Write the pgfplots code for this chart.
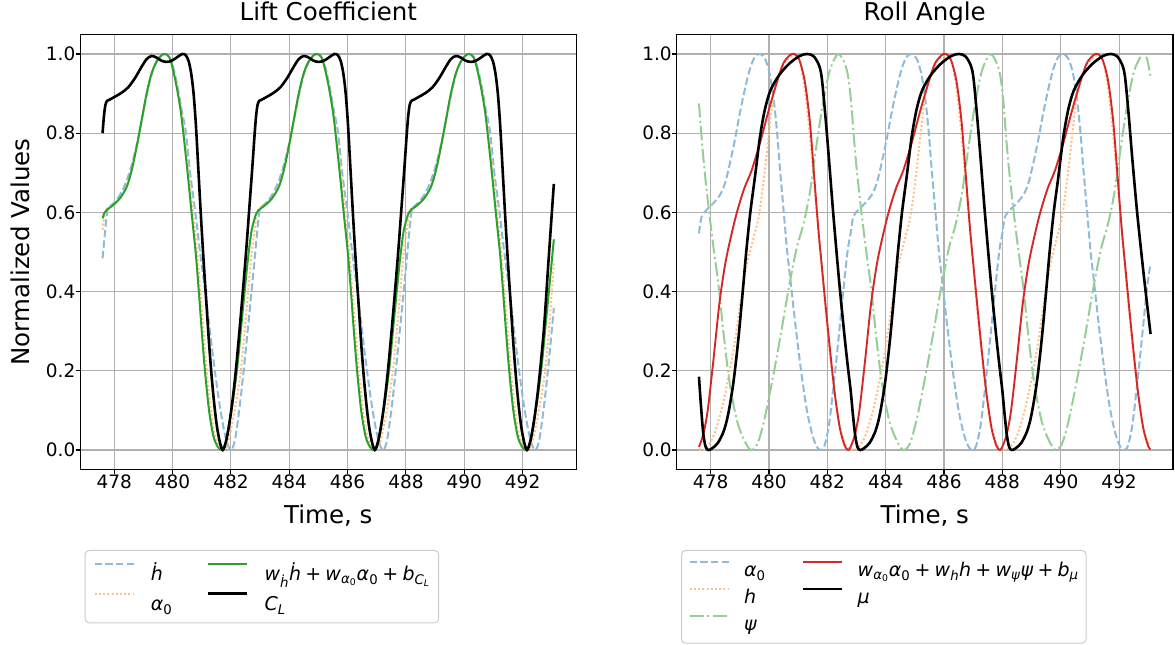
\documentclass[border=0pt]{standalone}
\usepackage{fontspec}
\setmainfont{DejaVu Sans}[ItalicFont={DejaVu Sans Oblique}]
\usepackage{pgfplots}
\pgfplotsset{compat=1.18}

\definecolor{cblue}{HTML}{8FBBD9}
\definecolor{corange}{HTML}{FFBF86}
\definecolor{cgreen}{HTML}{2CA02C}
\definecolor{cgreenl}{HTML}{95CF95}
\definecolor{cred}{HTML}{D62728}
\definecolor{cgrid}{HTML}{B0B0B0}
\definecolor{cleg}{HTML}{CCCCCC}

\newcommand{\pl}{\hspace{0.22em}+\hspace{0.22em}}

\pgfplotsset{
  panel/.style={
    scale only axis, width=496.5pt, height=435.6pt, anchor=south west,
    xmin=476.83, xmax=493.85, ymin=-0.05, ymax=1.05,
    xtick={478,480,...,492}, ytick={0,0.2,0.4,0.6,0.8,1.0},
    grid=major, major grid style={cgrid, line width=1.05pt},
    axis line style={black, line width=1.05pt},
    tick align=outside, tick pos=left, major tick length=4.6pt,
    every tick/.style={black, line width=1.05pt},
    /pgf/number format/assume math mode=true,
    ticklabel style={font=\fontsize{18.5}{22}\selectfont, inner sep=0pt},
    xticklabel style={/pgf/number format/1000 sep={}},
    yticklabel style={/pgf/number format/.cd, fixed, fixed zerofill, precision=1},
    title style={font=\fontsize{24.5}{29}\selectfont, at={(axis description cs:0.5,1.0184)}, anchor=base},
    xlabel style={font=\fontsize{24.5}{29}\selectfont, at={(axis description cs:0.5,-0.124)}, anchor=base},
    ylabel style={font=\fontsize{24.5}{29}\selectfont, at={(axis description cs:-0.1029,0.5)}, anchor=base},
    legend cell align=left, legend columns=2,
    legend image code/.code={\draw[#1, line cap=butt] (0pt,8pt) -- (39pt,8pt);},
  },
  hdot/.style={cblue, line width=2pt, dash pattern=on 7.4pt off 3.2pt},
  dots/.style={corange, line width=2pt, dash pattern=on 2pt off 2.2pt},
  dashdot/.style={cgreenl, line width=2pt, dash pattern=on 14pt off 3.4pt on 2pt off 3.4pt},
  curve/.style={forget plot, smooth, tension=0.5},
}

\begin{document}
\begin{tikzpicture}
\useasboundingbox (0pt,0pt) rectangle (1175pt,645pt);

% ---------------- Lift coefficient ----------------
\begin{axis}[panel, at={(80.1pt,175.2pt)},
  title={Lift Coefficient}, xlabel={Time, s}, ylabel={Normalized Values},
  legend style={at={(axis description cs:0.00926,-0.1841)}, anchor=north west,
    draw=cleg, line width=1pt, rounded corners=4pt, fill=white,
    font=\fontsize{19}{23}\selectfont,
    inner xsep=8.6pt, inner ysep=8pt, row sep=3.7pt,
    nodes={inner sep=0pt, text height=22pt, text depth=4.3pt},
    /tikz/every odd column/.append style={column sep=16pt},
    /tikz/every even column/.append style={column sep=34.8pt}},
]
% h-dot
\addplot[curve, hdot] coordinates {
(477.60,0.484)(477.68,0.547)(477.76,0.602)(477.85,0.615)(478.00,0.625)(478.20,0.645)(478.40,0.675)(478.60,0.720)(478.80,0.780)(478.95,0.835)(479.11,0.895)(479.28,0.948)(479.45,0.980)(479.62,0.996)(479.76,1.000)(479.90,0.990)(480.02,0.968)(480.17,0.917)(480.31,0.860)(480.46,0.800)(480.60,0.700)(480.78,0.600)(480.94,0.500)(481.12,0.400)(481.28,0.300)(481.45,0.200)(481.60,0.120)(481.75,0.055)(481.88,0.015)(482.02,0.000)(482.15,0.030)(482.30,0.110)(482.45,0.210)(482.60,0.320)(482.72,0.410)
(482.815,0.484)(482.895,0.547)(482.975,0.602)(483.065,0.615)(483.215,0.625)(483.415,0.645)(483.615,0.675)(483.815,0.720)(484.015,0.780)(484.165,0.835)(484.325,0.895)(484.495,0.948)(484.665,0.980)(484.835,0.996)(484.975,1.000)(485.115,0.990)(485.235,0.968)(485.385,0.917)(485.525,0.860)(485.675,0.800)(485.815,0.700)(485.995,0.600)(486.155,0.500)(486.335,0.400)(486.495,0.300)(486.665,0.200)(486.815,0.120)(486.965,0.055)(487.095,0.015)(487.235,0.000)(487.365,0.030)(487.515,0.110)(487.665,0.210)(487.815,0.320)(487.935,0.410)
(488.03,0.484)(488.11,0.547)(488.19,0.602)(488.28,0.615)(488.43,0.625)(488.63,0.645)(488.83,0.675)(489.03,0.720)(489.23,0.780)(489.38,0.835)(489.54,0.895)(489.71,0.948)(489.88,0.980)(490.05,0.996)(490.19,1.000)(490.33,0.990)(490.45,0.968)(490.60,0.917)(490.74,0.860)(490.89,0.800)(491.03,0.700)(491.21,0.600)(491.37,0.500)(491.55,0.400)(491.71,0.300)(491.88,0.200)(492.03,0.120)(492.18,0.055)(492.31,0.015)(492.45,0.000)(492.58,0.030)(492.73,0.110)(492.88,0.210)(493.07,0.358)
};
% alpha_0
\addplot[curve, dots] coordinates {
(477.60,0.556)(477.66,0.590)(477.72,0.608)(477.97,0.619)(478.20,0.636)(478.43,0.665)(478.60,0.707)(478.77,0.766)(478.94,0.833)(479.11,0.900)(479.28,0.951)(479.45,0.981)(479.62,0.997)(479.75,1.000)(479.88,0.993)(480.00,0.968)(480.15,0.917)(480.31,0.850)(480.45,0.766)(480.58,0.682)(480.70,0.600)(480.84,0.500)(480.95,0.400)(481.06,0.300)(481.17,0.200)(481.31,0.100)(481.46,0.035)(481.62,0.008)(481.76,0.000)(481.90,0.020)(482.05,0.070)(482.20,0.130)(482.34,0.200)(482.47,0.300)(482.59,0.400)(482.70,0.490)
(482.815,0.556)(482.875,0.590)(482.935,0.608)(483.185,0.619)(483.415,0.636)(483.645,0.665)(483.815,0.707)(483.985,0.766)(484.155,0.833)(484.325,0.900)(484.495,0.951)(484.665,0.981)(484.835,0.997)(484.965,1.000)(485.095,0.993)(485.215,0.968)(485.365,0.917)(485.525,0.850)(485.665,0.766)(485.795,0.682)(485.915,0.600)(486.055,0.500)(486.165,0.400)(486.275,0.300)(486.385,0.200)(486.525,0.100)(486.675,0.035)(486.835,0.008)(486.975,0.000)(487.115,0.020)(487.265,0.070)(487.415,0.130)(487.555,0.200)(487.685,0.300)(487.805,0.400)(487.915,0.490)
(488.03,0.556)(488.09,0.590)(488.15,0.608)(488.40,0.619)(488.63,0.636)(488.86,0.665)(489.03,0.707)(489.20,0.766)(489.37,0.833)(489.54,0.900)(489.71,0.951)(489.88,0.981)(490.05,0.997)(490.18,1.000)(490.31,0.993)(490.43,0.968)(490.58,0.917)(490.74,0.850)(490.88,0.766)(491.01,0.682)(491.13,0.600)(491.27,0.500)(491.38,0.400)(491.49,0.300)(491.60,0.200)(491.74,0.100)(491.89,0.035)(492.05,0.008)(492.19,0.000)(492.33,0.020)(492.48,0.070)(492.63,0.130)(492.77,0.200)(492.90,0.300)(493.07,0.471)
};
% linear fit
\addplot[curve, cgreen, line width=2pt] coordinates {
(477.60,0.585)(477.66,0.598)(477.74,0.606)(477.97,0.619)(478.20,0.636)(478.43,0.665)(478.60,0.707)(478.77,0.766)(478.94,0.833)(479.11,0.900)(479.28,0.951)(479.45,0.981)(479.62,0.997)(479.74,1.000)(479.88,0.993)(479.99,0.968)(480.14,0.917)(480.29,0.850)(480.42,0.766)(480.54,0.682)(480.65,0.600)(480.79,0.500)(480.90,0.400)(481.00,0.300)(481.11,0.200)(481.25,0.100)(481.40,0.035)(481.55,0.008)(481.70,0.000)(481.82,0.020)(481.95,0.070)(482.08,0.130)(482.22,0.210)(482.35,0.310)(482.47,0.400)(482.58,0.480)(482.70,0.550)
(482.815,0.585)(482.875,0.598)(482.955,0.606)(483.185,0.619)(483.415,0.636)(483.645,0.665)(483.815,0.707)(483.985,0.766)(484.155,0.833)(484.325,0.900)(484.495,0.951)(484.665,0.981)(484.835,0.997)(484.955,1.000)(485.095,0.993)(485.205,0.968)(485.355,0.917)(485.505,0.850)(485.635,0.766)(485.755,0.682)(485.865,0.600)(486.005,0.500)(486.115,0.400)(486.215,0.300)(486.325,0.200)(486.465,0.100)(486.615,0.035)(486.765,0.008)(486.915,0.000)(487.035,0.020)(487.165,0.070)(487.295,0.130)(487.435,0.210)(487.565,0.310)(487.685,0.400)(487.795,0.480)(487.915,0.550)
(488.03,0.585)(488.09,0.598)(488.17,0.606)(488.40,0.619)(488.63,0.636)(488.86,0.665)(489.03,0.707)(489.20,0.766)(489.37,0.833)(489.54,0.900)(489.71,0.951)(489.88,0.981)(490.05,0.997)(490.17,1.000)(490.31,0.993)(490.42,0.968)(490.57,0.917)(490.72,0.850)(490.85,0.766)(490.97,0.682)(491.08,0.600)(491.22,0.500)(491.33,0.400)(491.43,0.300)(491.54,0.200)(491.68,0.100)(491.83,0.035)(491.98,0.008)(492.13,0.000)(492.25,0.020)(492.38,0.070)(492.51,0.130)(492.65,0.210)(492.78,0.310)(492.90,0.400)(493.07,0.532)
};
% C_L
\addplot[curve, black, line width=2.6pt] coordinates {
(477.60,0.800)(477.65,0.845)(477.70,0.872)(477.76,0.882)(477.85,0.885)(478.02,0.892)(478.25,0.902)(478.48,0.916)(478.71,0.939)(478.94,0.968)(479.11,0.987)(479.28,0.995)(479.45,0.991)(479.62,0.983)(479.80,0.980)(479.97,0.983)(480.14,0.991)(480.33,1.000)(480.45,0.997)(480.55,0.982)(480.64,0.950)(480.72,0.900)(480.80,0.820)(480.89,0.700)(480.98,0.580)(481.07,0.470)(481.16,0.370)(481.25,0.270)(481.34,0.185)(481.43,0.115)(481.52,0.060)(481.62,0.020)(481.72,0.000)(481.82,0.018)(481.92,0.055)(482.02,0.105)(482.11,0.160)(482.20,0.225)(482.31,0.315)(482.42,0.410)(482.53,0.510)(482.63,0.610)(482.72,0.700)
(482.815,0.800)(482.865,0.845)(482.915,0.872)(482.975,0.882)(483.065,0.885)(483.235,0.892)(483.465,0.902)(483.695,0.916)(483.925,0.939)(484.155,0.968)(484.325,0.987)(484.495,0.995)(484.665,0.991)(484.835,0.983)(485.015,0.980)(485.185,0.983)(485.355,0.991)(485.545,1.000)(485.665,0.997)(485.765,0.982)(485.855,0.950)(485.935,0.900)(486.015,0.820)(486.105,0.700)(486.195,0.580)(486.285,0.470)(486.375,0.370)(486.465,0.270)(486.555,0.185)(486.645,0.115)(486.735,0.060)(486.835,0.020)(486.935,0.000)(487.035,0.018)(487.135,0.055)(487.235,0.105)(487.325,0.160)(487.415,0.225)(487.525,0.315)(487.635,0.410)(487.745,0.510)(487.845,0.610)(487.935,0.700)
(488.03,0.800)(488.08,0.845)(488.13,0.872)(488.19,0.882)(488.28,0.885)(488.45,0.892)(488.68,0.902)(488.91,0.916)(489.14,0.939)(489.37,0.968)(489.54,0.987)(489.71,0.995)(489.88,0.991)(490.05,0.983)(490.23,0.980)(490.40,0.983)(490.57,0.991)(490.76,1.000)(490.88,0.997)(490.98,0.982)(491.07,0.950)(491.15,0.900)(491.23,0.820)(491.32,0.700)(491.41,0.580)(491.50,0.470)(491.59,0.370)(491.68,0.270)(491.77,0.185)(491.86,0.115)(491.95,0.060)(492.05,0.020)(492.15,0.000)(492.25,0.018)(492.35,0.055)(492.45,0.105)(492.54,0.160)(492.63,0.225)(492.74,0.315)(492.88,0.470)(493.07,0.672)
};
\addlegendimage{hdot}
\addlegendentry{\textit{ḣ}}
\addlegendimage{cgreen, line width=2pt}
\addlegendentry{\textit{w}\textsubscript{\textit{ḣ}}\textit{ḣ}\pl\textit{w}\textsubscript{\textit{α}\textsubscript{0}}\textit{α}\textsubscript{0}\pl\textit{b}\textsubscript{\textit{C}\textsubscript{\textit{L}}}}
\addlegendimage{dots}
\addlegendentry{\textit{α}\textsubscript{0}}
\addlegendimage{black, line width=2.6pt}
\addlegendentry{\textit{C}\textsubscript{\textit{L}}}
\end{axis}

% ---------------- Roll angle ----------------
\begin{axis}[panel, at={(676.5pt,175.2pt)},
  title={Roll Angle}, xlabel={Time, s},
  legend style={at={(axis description cs:0.0091,-0.1841)}, anchor=north west,
    draw=cleg, line width=1pt, rounded corners=4pt, fill=white,
    font=\fontsize{19}{23}\selectfont,
    inner xsep=7.3pt, inner ysep=8pt, row sep=4.3pt,
    nodes={inner sep=0pt, text height=18pt, text depth=4.7pt},
    /tikz/every odd column/.append style={column sep=14.4pt},
    /tikz/every even column/.append style={column sep=36pt}},
]
% alpha_0
\addplot[curve, hdot] coordinates {
(477.60,0.547)(477.69,0.589)(477.86,0.606)(478.09,0.623)(478.32,0.644)(478.49,0.673)(478.66,0.724)(478.83,0.783)(479.00,0.850)(479.18,0.913)(479.35,0.963)(479.52,0.993)(479.70,1.000)(479.87,0.987)(480.02,0.951)(480.15,0.892)(480.27,0.808)(480.38,0.707)(480.50,0.606)(480.62,0.505)(480.75,0.420)(480.90,0.320)(481.10,0.200)(481.30,0.100)(481.50,0.035)(481.66,0.006)(481.78,0.000)(481.90,0.010)(482.05,0.060)(482.20,0.152)(482.38,0.278)(482.55,0.404)(482.70,0.505)
(482.80,0.547)(482.89,0.589)(483.06,0.606)(483.29,0.623)(483.52,0.644)(483.69,0.673)(483.86,0.724)(484.03,0.783)(484.20,0.850)(484.38,0.913)(484.55,0.963)(484.72,0.993)(484.90,1.000)(485.07,0.987)(485.22,0.951)(485.35,0.892)(485.47,0.808)(485.58,0.707)(485.70,0.606)(485.82,0.505)(485.95,0.420)(486.10,0.320)(486.30,0.200)(486.50,0.100)(486.70,0.035)(486.86,0.006)(486.98,0.000)(487.10,0.010)(487.25,0.060)(487.40,0.152)(487.58,0.278)(487.75,0.404)(487.90,0.505)
(488.00,0.547)(488.09,0.589)(488.26,0.606)(488.49,0.623)(488.72,0.644)(488.89,0.673)(489.06,0.724)(489.23,0.783)(489.40,0.850)(489.58,0.913)(489.75,0.963)(489.92,0.993)(490.10,1.000)(490.27,0.987)(490.42,0.951)(490.55,0.892)(490.67,0.808)(490.78,0.707)(490.90,0.606)(491.02,0.505)(491.15,0.420)(491.30,0.320)(491.50,0.200)(491.70,0.100)(491.90,0.035)(492.06,0.006)(492.18,0.000)(492.30,0.010)(492.45,0.060)(492.60,0.152)(492.78,0.278)(492.95,0.404)(493.08,0.471)
};
% h
\addplot[curve, dots] coordinates {
(477.60,0.003)(477.75,0.000)(477.95,0.015)(478.15,0.045)(478.40,0.110)(478.60,0.180)(478.80,0.260)(479.00,0.360)(479.22,0.460)(479.45,0.530)(479.65,0.590)(479.85,0.700)(480.00,0.800)(480.17,0.900)(480.40,0.958)(480.65,0.988)(480.89,0.997)(481.06,0.980)(481.23,0.910)(481.38,0.810)(481.54,0.682)(481.71,0.540)(481.88,0.400)(482.05,0.270)(482.22,0.160)(482.40,0.070)(482.58,0.020)(482.72,0.004)
(482.80,0.003)(482.95,0.000)(483.15,0.015)(483.35,0.045)(483.60,0.110)(483.80,0.180)(484.00,0.260)(484.20,0.360)(484.42,0.460)(484.65,0.530)(484.85,0.590)(485.05,0.700)(485.20,0.800)(485.37,0.900)(485.60,0.958)(485.85,0.988)(486.09,0.997)(486.26,0.980)(486.43,0.910)(486.58,0.810)(486.74,0.682)(486.91,0.540)(487.08,0.400)(487.25,0.270)(487.42,0.160)(487.60,0.070)(487.78,0.020)(487.92,0.004)
(488.00,0.003)(488.15,0.000)(488.35,0.015)(488.55,0.045)(488.80,0.110)(489.00,0.180)(489.20,0.260)(489.40,0.360)(489.62,0.460)(489.85,0.530)(490.05,0.590)(490.25,0.700)(490.40,0.800)(490.57,0.900)(490.80,0.958)(491.05,0.988)(491.29,0.997)(491.46,0.980)(491.63,0.910)(491.78,0.810)(491.94,0.682)(492.11,0.540)(492.28,0.400)(492.45,0.270)(492.62,0.160)(492.80,0.070)(492.98,0.020)(493.08,0.025)
};
% psi
\addplot[curve, dashdot] coordinates {
(477.60,0.875)(477.70,0.780)(477.80,0.700)(477.95,0.600)(478.10,0.510)(478.28,0.410)(478.45,0.290)(478.65,0.170)(478.90,0.075)(479.15,0.025)(479.38,0.000)(479.60,0.015)(479.82,0.070)(480.10,0.170)(480.40,0.290)(480.68,0.410)(480.95,0.510)(481.18,0.570)(481.40,0.650)(481.63,0.770)(481.86,0.880)(482.09,0.960)(482.37,1.000)(482.60,0.975)(482.72,0.940)
(482.82,0.875)(482.92,0.780)(483.02,0.700)(483.17,0.600)(483.32,0.510)(483.50,0.410)(483.67,0.290)(483.87,0.170)(484.12,0.075)(484.37,0.025)(484.60,0.000)(484.82,0.015)(485.04,0.070)(485.32,0.170)(485.62,0.290)(485.90,0.410)(486.17,0.510)(486.40,0.570)(486.62,0.650)(486.85,0.770)(487.08,0.880)(487.31,0.960)(487.59,1.000)(487.82,0.975)(487.94,0.940)
(488.04,0.875)(488.14,0.780)(488.24,0.700)(488.39,0.600)(488.54,0.510)(488.72,0.410)(488.89,0.290)(489.09,0.170)(489.34,0.075)(489.59,0.025)(489.82,0.000)(490.04,0.015)(490.26,0.070)(490.54,0.170)(490.84,0.290)(491.12,0.410)(491.39,0.510)(491.62,0.570)(491.84,0.650)(492.07,0.770)(492.30,0.880)(492.53,0.960)(492.81,1.000)(492.95,0.990)(493.08,0.943)
};
% linear fit
\addplot[curve, cred, line width=1.9pt] coordinates {
(477.60,0.008)(477.75,0.040)(477.90,0.100)(478.10,0.230)(478.30,0.370)(478.50,0.470)(478.70,0.540)(478.90,0.600)(479.15,0.660)(479.40,0.705)(479.69,0.775)(479.98,0.855)(480.26,0.926)(480.49,0.976)(480.72,0.997)(480.87,1.000)(481.04,0.985)(481.23,0.930)(481.40,0.830)(481.54,0.700)(481.69,0.560)(481.83,0.450)(481.98,0.335)(482.11,0.240)(482.26,0.140)(482.43,0.055)(482.60,0.010)(482.72,0.000)
(482.80,0.008)(482.95,0.040)(483.10,0.100)(483.30,0.230)(483.50,0.370)(483.70,0.470)(483.90,0.540)(484.10,0.600)(484.35,0.660)(484.60,0.705)(484.89,0.775)(485.18,0.855)(485.46,0.926)(485.69,0.976)(485.92,0.997)(486.07,1.000)(486.24,0.985)(486.43,0.930)(486.60,0.830)(486.74,0.700)(486.89,0.560)(487.03,0.450)(487.18,0.335)(487.31,0.240)(487.46,0.140)(487.63,0.055)(487.80,0.010)(487.92,0.000)
(488.00,0.008)(488.15,0.040)(488.30,0.100)(488.50,0.230)(488.70,0.370)(488.90,0.470)(489.10,0.540)(489.30,0.600)(489.55,0.660)(489.80,0.705)(490.09,0.775)(490.38,0.855)(490.66,0.926)(490.89,0.976)(491.12,0.997)(491.27,1.000)(491.44,0.985)(491.63,0.930)(491.80,0.830)(491.94,0.700)(492.09,0.560)(492.23,0.450)(492.38,0.335)(492.51,0.240)(492.66,0.140)(492.83,0.055)(493.00,0.010)(493.08,0.002)
};
% mu
\addplot[curve, black, line width=2.6pt] coordinates {
(477.60,0.185)(477.67,0.110)(477.75,0.040)(477.83,0.008)(477.92,0.000)(478.05,0.004)(478.25,0.018)(478.45,0.048)(478.60,0.090)(478.78,0.170)(478.95,0.280)(479.10,0.400)(479.22,0.500)(479.36,0.600)(479.52,0.690)(479.69,0.790)(479.86,0.860)(480.05,0.908)(480.35,0.947)(480.70,0.976)(481.05,0.995)(481.31,1.000)(481.52,0.995)(481.69,0.976)(481.80,0.945)(481.92,0.855)(482.05,0.740)(482.20,0.600)(482.40,0.430)(482.60,0.280)(482.72,0.200)
(482.80,0.150)(482.87,0.095)(482.95,0.040)(483.03,0.008)(483.12,0.000)(483.25,0.004)(483.45,0.018)(483.65,0.048)(483.80,0.090)(483.98,0.170)(484.15,0.280)(484.30,0.400)(484.42,0.500)(484.56,0.600)(484.72,0.690)(484.89,0.790)(485.06,0.860)(485.25,0.908)(485.55,0.947)(485.90,0.976)(486.25,0.995)(486.51,1.000)(486.72,0.995)(486.89,0.976)(487.00,0.945)(487.12,0.855)(487.25,0.740)(487.40,0.600)(487.60,0.430)(487.80,0.280)(487.92,0.200)
(488.00,0.150)(488.07,0.095)(488.15,0.040)(488.23,0.008)(488.32,0.000)(488.45,0.004)(488.65,0.018)(488.85,0.048)(489.00,0.090)(489.18,0.170)(489.35,0.280)(489.50,0.400)(489.62,0.500)(489.76,0.600)(489.92,0.690)(490.09,0.790)(490.26,0.860)(490.45,0.908)(490.75,0.947)(491.10,0.976)(491.45,0.995)(491.71,1.000)(491.92,0.995)(492.09,0.976)(492.20,0.945)(492.32,0.855)(492.45,0.740)(492.62,0.600)(492.85,0.440)(493.08,0.293)
};
\addlegendimage{hdot}
\addlegendentry{\textit{α}\textsubscript{0}}
\addlegendimage{cred, line width=1.9pt}
\addlegendentry{\textit{w}\textsubscript{\textit{α}\textsubscript{0}}\textit{α}\textsubscript{0}\pl\textit{w}\textsubscript{\textit{h}}\textit{h}\pl\textit{w}\textsubscript{\textit{ψ}}\textit{ψ}\pl\textit{b}\textsubscript{\textit{μ}}}
\addlegendimage{dots}
\addlegendentry{\textit{h}}
\addlegendimage{black, line width=2.6pt}
\addlegendentry{\textit{μ}}
\addlegendimage{dashdot}
\addlegendentry{\textit{ψ}}
\end{axis}
\end{tikzpicture}
\end{document}
